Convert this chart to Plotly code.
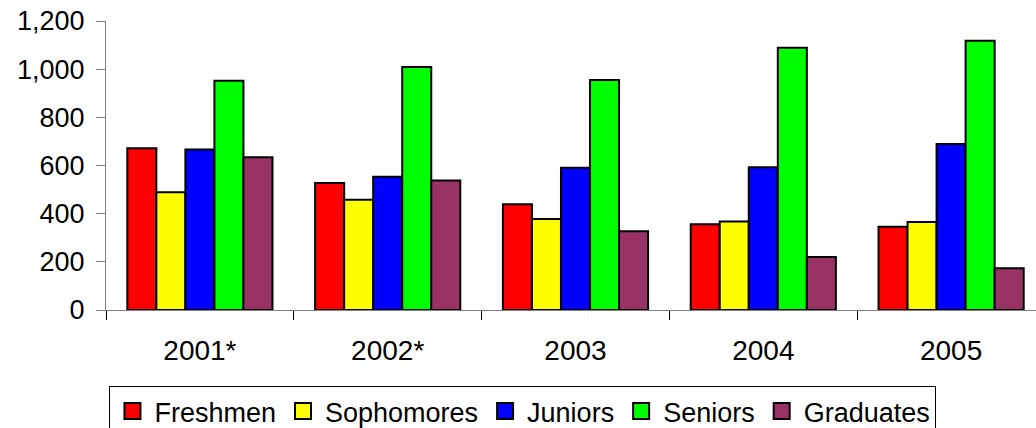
import plotly.graph_objects as go

years = ["2001*", "2002*", "2003", "2004", "2005"]
freshmen = [672, 527, 439, 356, 346]
sophomores = [489, 458, 378, 367, 365]
juniors = [666, 553, 591, 593, 689]
seniors = [952, 1009, 955, 1089, 1118]
graduates = [634, 538, 327, 220, 173]

series = [
    ("Freshmen", freshmen, "#FF0000"),
    ("Sophomores", sophomores, "#FFFF00"),
    ("Juniors", juniors, "#0000FF"),
    ("Seniors", seniors, "#00FF00"),
    ("Graduates", graduates, "#993366"),
]

FONT = "Liberation Sans, Arial, sans-serif"

fig = go.Figure()
for name, vals, color in series:
    fig.add_trace(go.Bar(
        x=years, y=vals, name=name, showlegend=False, legendgroup=name,
        marker=dict(color=color, line=dict(color="black", width=2)),
    ))
# legend entries (larger square swatches)
for name, vals, color in series:
    fig.add_trace(go.Scatter(
        x=[None], y=[None], mode="markers", name=name, legendgroup=name,
        marker=dict(symbol="square", size=16, color=color,
                    line=dict(color="black", width=2)),
        hoverinfo="skip",
    ))

fig.update_layout(
    width=1048, height=428,
    margin=dict(l=106, r=3, t=21, b=118, autoexpand=False),
    paper_bgcolor="white", plot_bgcolor="white",
    barmode="group", bargap=0.227, bargroupgap=0,
    font=dict(family=FONT, color="black"),
    showlegend=True,
    legend=dict(
        orientation="h", xref="container", yref="container",
        x=0.499, xanchor="center", y=0.098, yanchor="top",
        font=dict(size=27, family=FONT, color="black"),
        bordercolor="black", borderwidth=1, bgcolor="white",
        traceorder="normal", itemwidth=34,
    ),
)
fig.update_xaxes(
    range=[-0.5, 4.5], showgrid=False, zeroline=False,
    showline=True, linecolor="#808080", linewidth=1,
    ticks="outside", tickson="boundaries", ticklen=9, tickcolor="black", tickwidth=1,
    tickfont=dict(size=28, family=FONT, color="black"),
    ticklabelstandoff=15,
)
fig.update_yaxes(
    range=[0, 1200], dtick=200, tickformat=",d", showgrid=False, zeroline=False,
    showline=True, linecolor="#808080", linewidth=1,
    ticks="outside", ticklen=9, tickcolor="#808080", tickwidth=1,
    tickfont=dict(size=27, family=FONT, color="black"),
    ticklabelstandoff=6, ticklabeloverflow="allow",
)

fig.write_html("out.html", config={"displayModeBar": False},
               post_script="document.body.style.margin='0';")
